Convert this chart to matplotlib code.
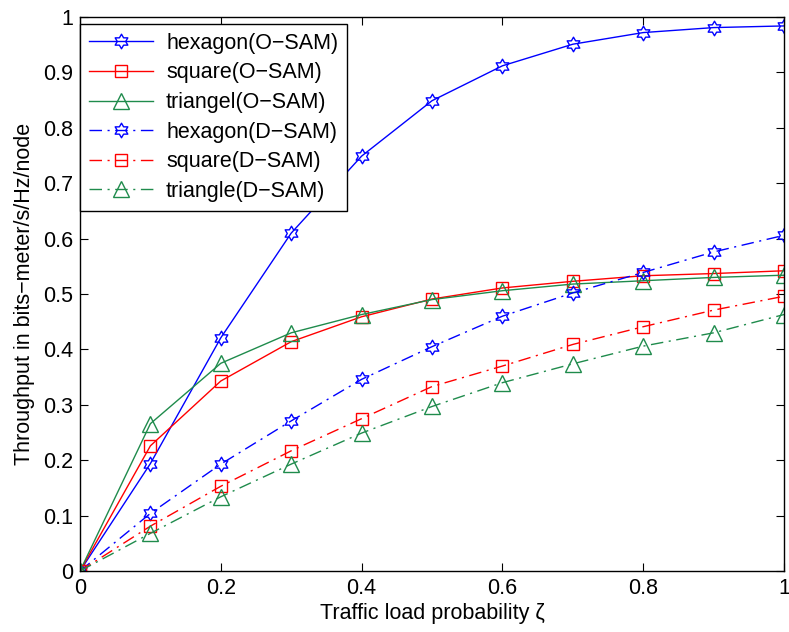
import numpy as np
import matplotlib
matplotlib.use('Agg')
from matplotlib import pyplot as plt
from matplotlib.path import Path

# traffic load probability
load = [0, 0.1, 0.2, 0.3, 0.4, 0.5, 0.6, 0.7, 0.8, 0.9, 1.0]

hexOsam = [0, 0.194, 0.421, 0.610, 0.749, 0.849, 0.912, 0.951, 0.972, 0.981, 0.984]
squareOsam = [0, 0.226, 0.343, 0.414, 0.459, 0.491, 0.511, 0.523, 0.533, 0.537, 0.542]
triOsam = [0, 0.266, 0.375, 0.430, 0.463, 0.490, 0.506, 0.518, 0.524, 0.530, 0.534]

hexDsam = [0, 0.104, 0.193, 0.271, 0.346, 0.405, 0.460, 0.502, 0.539, 0.576, 0.606]
squareDsam = [0, 0.081, 0.153, 0.217, 0.275, 0.333, 0.370, 0.409, 0.441, 0.471, 0.496]
triDsam = [0, 0.068, 0.134, 0.193, 0.249, 0.297, 0.340, 0.374, 0.406, 0.430, 0.463]

xTicks = [0, 0.2, 0.4, 0.6, 0.8, 1]
yTicks = [0, 0.1, 0.2, 0.3, 0.4, 0.5, 0.6, 0.7, 0.8, 0.9, 1]


def hexagram():
    # six-pointed star, outer radius 1, inner radius 1/sqrt(3)
    pts = []
    for k in range(12):
        ang = np.pi / 2 + k * np.pi / 6
        r = 1.0 if k % 2 == 0 else 1 / np.sqrt(3)
        pts.append((r * np.cos(ang), r * np.sin(ang)))
    pts.append(pts[0])
    codes = [Path.MOVETO] + [Path.LINETO] * 11 + [Path.CLOSEPOLY]
    return Path(pts, codes)


def main():
    plt.rcParams['font.family'] = ['Liberation Sans', 'DejaVu Sans']
    plt.rcParams['axes.unicode_minus'] = True

    fig = plt.figure(figsize=(7.89, 6.32), dpi=100)
    ax = fig.add_axes([0.1014, 0.0965, 0.8923, 0.8765])

    star = hexagram()
    blue = '#0000ff'
    red = '#ff0000'
    green = '#1f8b4c'
    dashDot = (0, (9, 4, 1.5, 4))

    ax.plot(load, hexOsam, color=blue, lw=1.0, marker=star, ms=10.5,
            mfc='none', mec=blue, mew=1.0, label='hexagon(O\u2212SAM)')
    ax.plot(load, squareOsam, color=red, lw=1.0, marker='s', ms=9,
            mfc='none', mec=red, mew=1.0, label='square(O\u2212SAM)')
    ax.plot(load, triOsam, color=green, lw=1.0, marker='^', ms=11,
            mfc='none', mec=green, mew=1.0, label='triangel(O\u2212SAM)')
    ax.plot(load, hexDsam, color=blue, lw=1.0, ls=dashDot, marker=star, ms=10.5,
            mfc='none', mec=blue, mew=1.0, label='hexagon(D\u2212SAM)')
    ax.plot(load, squareDsam, color=red, lw=1.0, ls=dashDot, marker='s', ms=9,
            mfc='none', mec=red, mew=1.0, label='square(D\u2212SAM)')
    ax.plot(load, triDsam, color=green, lw=1.0, ls=dashDot, marker='^', ms=11,
            mfc='none', mec=green, mew=1.0, label='triangle(D\u2212SAM)')

    ax.set_xlim(0, 1)
    ax.set_ylim(0, 1)
    ax.set_xticks(xTicks)
    ax.set_xticklabels(['0', '0.2', '0.4', '0.6', '0.8', '1'])
    ax.set_yticks(yTicks)
    ax.set_yticklabels(['0', '0.1', '0.2', '0.3', '0.4', '0.5', '0.6',
                        '0.7', '0.8', '0.9', '1'])
    ax.tick_params(direction='in', top=True, right=True, length=6,
                   width=0.8, labelsize=15.5, pad=5)
    for s in ax.spines.values():
        s.set_linewidth(1.0)

    ax.set_xlabel('Traffic load probability \u03b6', fontsize=15.5, labelpad=3)
    ax.set_ylabel('Throughput in bits\u2212meter/s/Hz/node', fontsize=15.5, labelpad=6)

    leg = ax.legend(loc='upper left', bbox_to_anchor=(0.0, 0.987), fontsize=15.5,
                    handlelength=3.0, borderaxespad=0, fancybox=False,
                    edgecolor='black', framealpha=1, labelspacing=0.4,
                    handletextpad=0.6, borderpad=0.4)
    leg.get_frame().set_linewidth(1.0)

    fig.savefig('out.png', dpi=100)


if __name__ == '__main__':
    main()
